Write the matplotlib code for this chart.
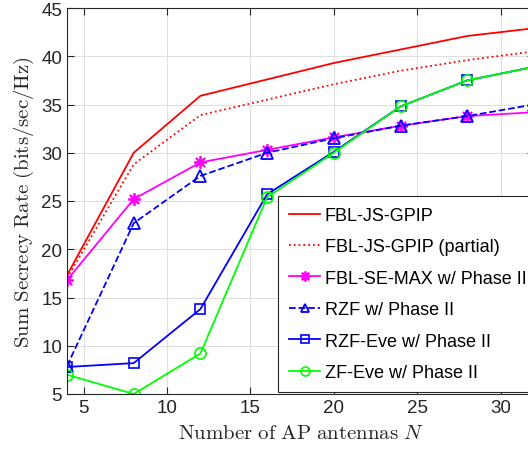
import matplotlib
matplotlib.use("Agg")
import matplotlib.pyplot as plt

# antenna counts and sum secrecy rates (bits/sec/Hz)
n_antennas = [4, 8, 12, 16, 20, 24, 28, 32]
fbl_js_gpip = [17.3, 30.0, 35.9, 37.6, 39.3, 40.7, 42.1, 42.9]
fbl_js_gpip_partial = [17.0, 28.8, 33.9, 35.5, 37.1, 38.5, 39.6, 40.5]
fbl_se_max = [16.8, 25.2, 29.0, 30.3, 31.6, 32.8, 33.8, 34.2]
rzf = [7.9, 22.7, 27.6, 30.0, 31.5, 32.8, 33.8, 35.0]
rzf_eve = [7.8, 8.2, 13.8, 25.7, 30.1, 34.8, 37.5, 38.9]
zf_eve = [7.0, 5.0, 9.2, 25.4, 30.0, 34.8, 37.5, 38.9]

xticks = [5, 10, 15, 20, 25, 30]
yticks = [5, 10, 15, 20, 25, 30, 35, 40, 45]

plt.rcParams["font.family"] = ["Liberation Sans", "DejaVu Sans"]
plt.rcParams["mathtext.fontset"] = "cm"

fig = plt.figure(figsize=(5.28, 4.56), dpi=100)
ax = fig.add_axes([67 / 528, 61 / 456, 467 / 528, 386 / 456])

lw = 1.3
ax.plot(n_antennas, fbl_js_gpip, "-", color="#ff0000", lw=lw, label="FBL-JS-GPIP")
ax.plot(n_antennas, fbl_js_gpip_partial, ":", color="#ff0000", lw=lw,
        label="FBL-JS-GPIP (partial)")
ax.plot(n_antennas, fbl_se_max, "-", marker=(8, 2, 0), color="#ff00ff", lw=lw,
        ms=9, mew=1.3, label="FBL-SE-MAX w/ Phase II")
ax.plot(n_antennas, rzf, "--^", color="#0000ff", lw=lw, ms=8, mfc="none",
        mew=1.3, label="RZF w/ Phase II")
ax.plot(n_antennas, rzf_eve, "-s", color="#0000ff", lw=lw, ms=7, mfc="none",
        mew=1.2, label="RZF-Eve w/ Phase II")
ax.plot(n_antennas, zf_eve, "-o", color="#00ff00", lw=lw, ms=8, mfc="none",
        mew=1.2, label="ZF-Eve w/ Phase II")

ax.set_xlim(4, 32)
ax.set_ylim(5, 45)
ax.set_xticks(xticks)
ax.set_yticks(yticks)
ax.grid(True, color="#dfdfdf", lw=0.8)
ax.set_axisbelow(True)
ax.tick_params(direction="in", top=True, right=True, labelsize=13.5,
               colors="#262626", length=5, width=0.8)
for sp in ax.spines.values():
    sp.set_color("#262626")
    sp.set_linewidth(0.8)

ax.set_xlabel(r"$\mathrm{Number\ of\ AP\ antennas}\ N$", fontsize=15,
              color="#262626", labelpad=5)
ax.set_ylabel(r"$\mathrm{Sum\ Secrecy\ Rate\ (bits/sec/Hz)}$", fontsize=15,
              color="#262626", labelpad=4)

leg = ax.legend(loc="upper left", bbox_to_anchor=(278 / 528, 1 - 197 / 456),
                bbox_transform=fig.transFigure, fontsize=13, handlelength=1.75,
                handletextpad=0.25, labelspacing=0.8, borderaxespad=0,
                fancybox=False, framealpha=1, edgecolor="#262626",
                borderpad=0.6, markerscale=0.8)
leg.get_frame().set_linewidth(0.8)

fig.savefig("out.png", dpi=100)
